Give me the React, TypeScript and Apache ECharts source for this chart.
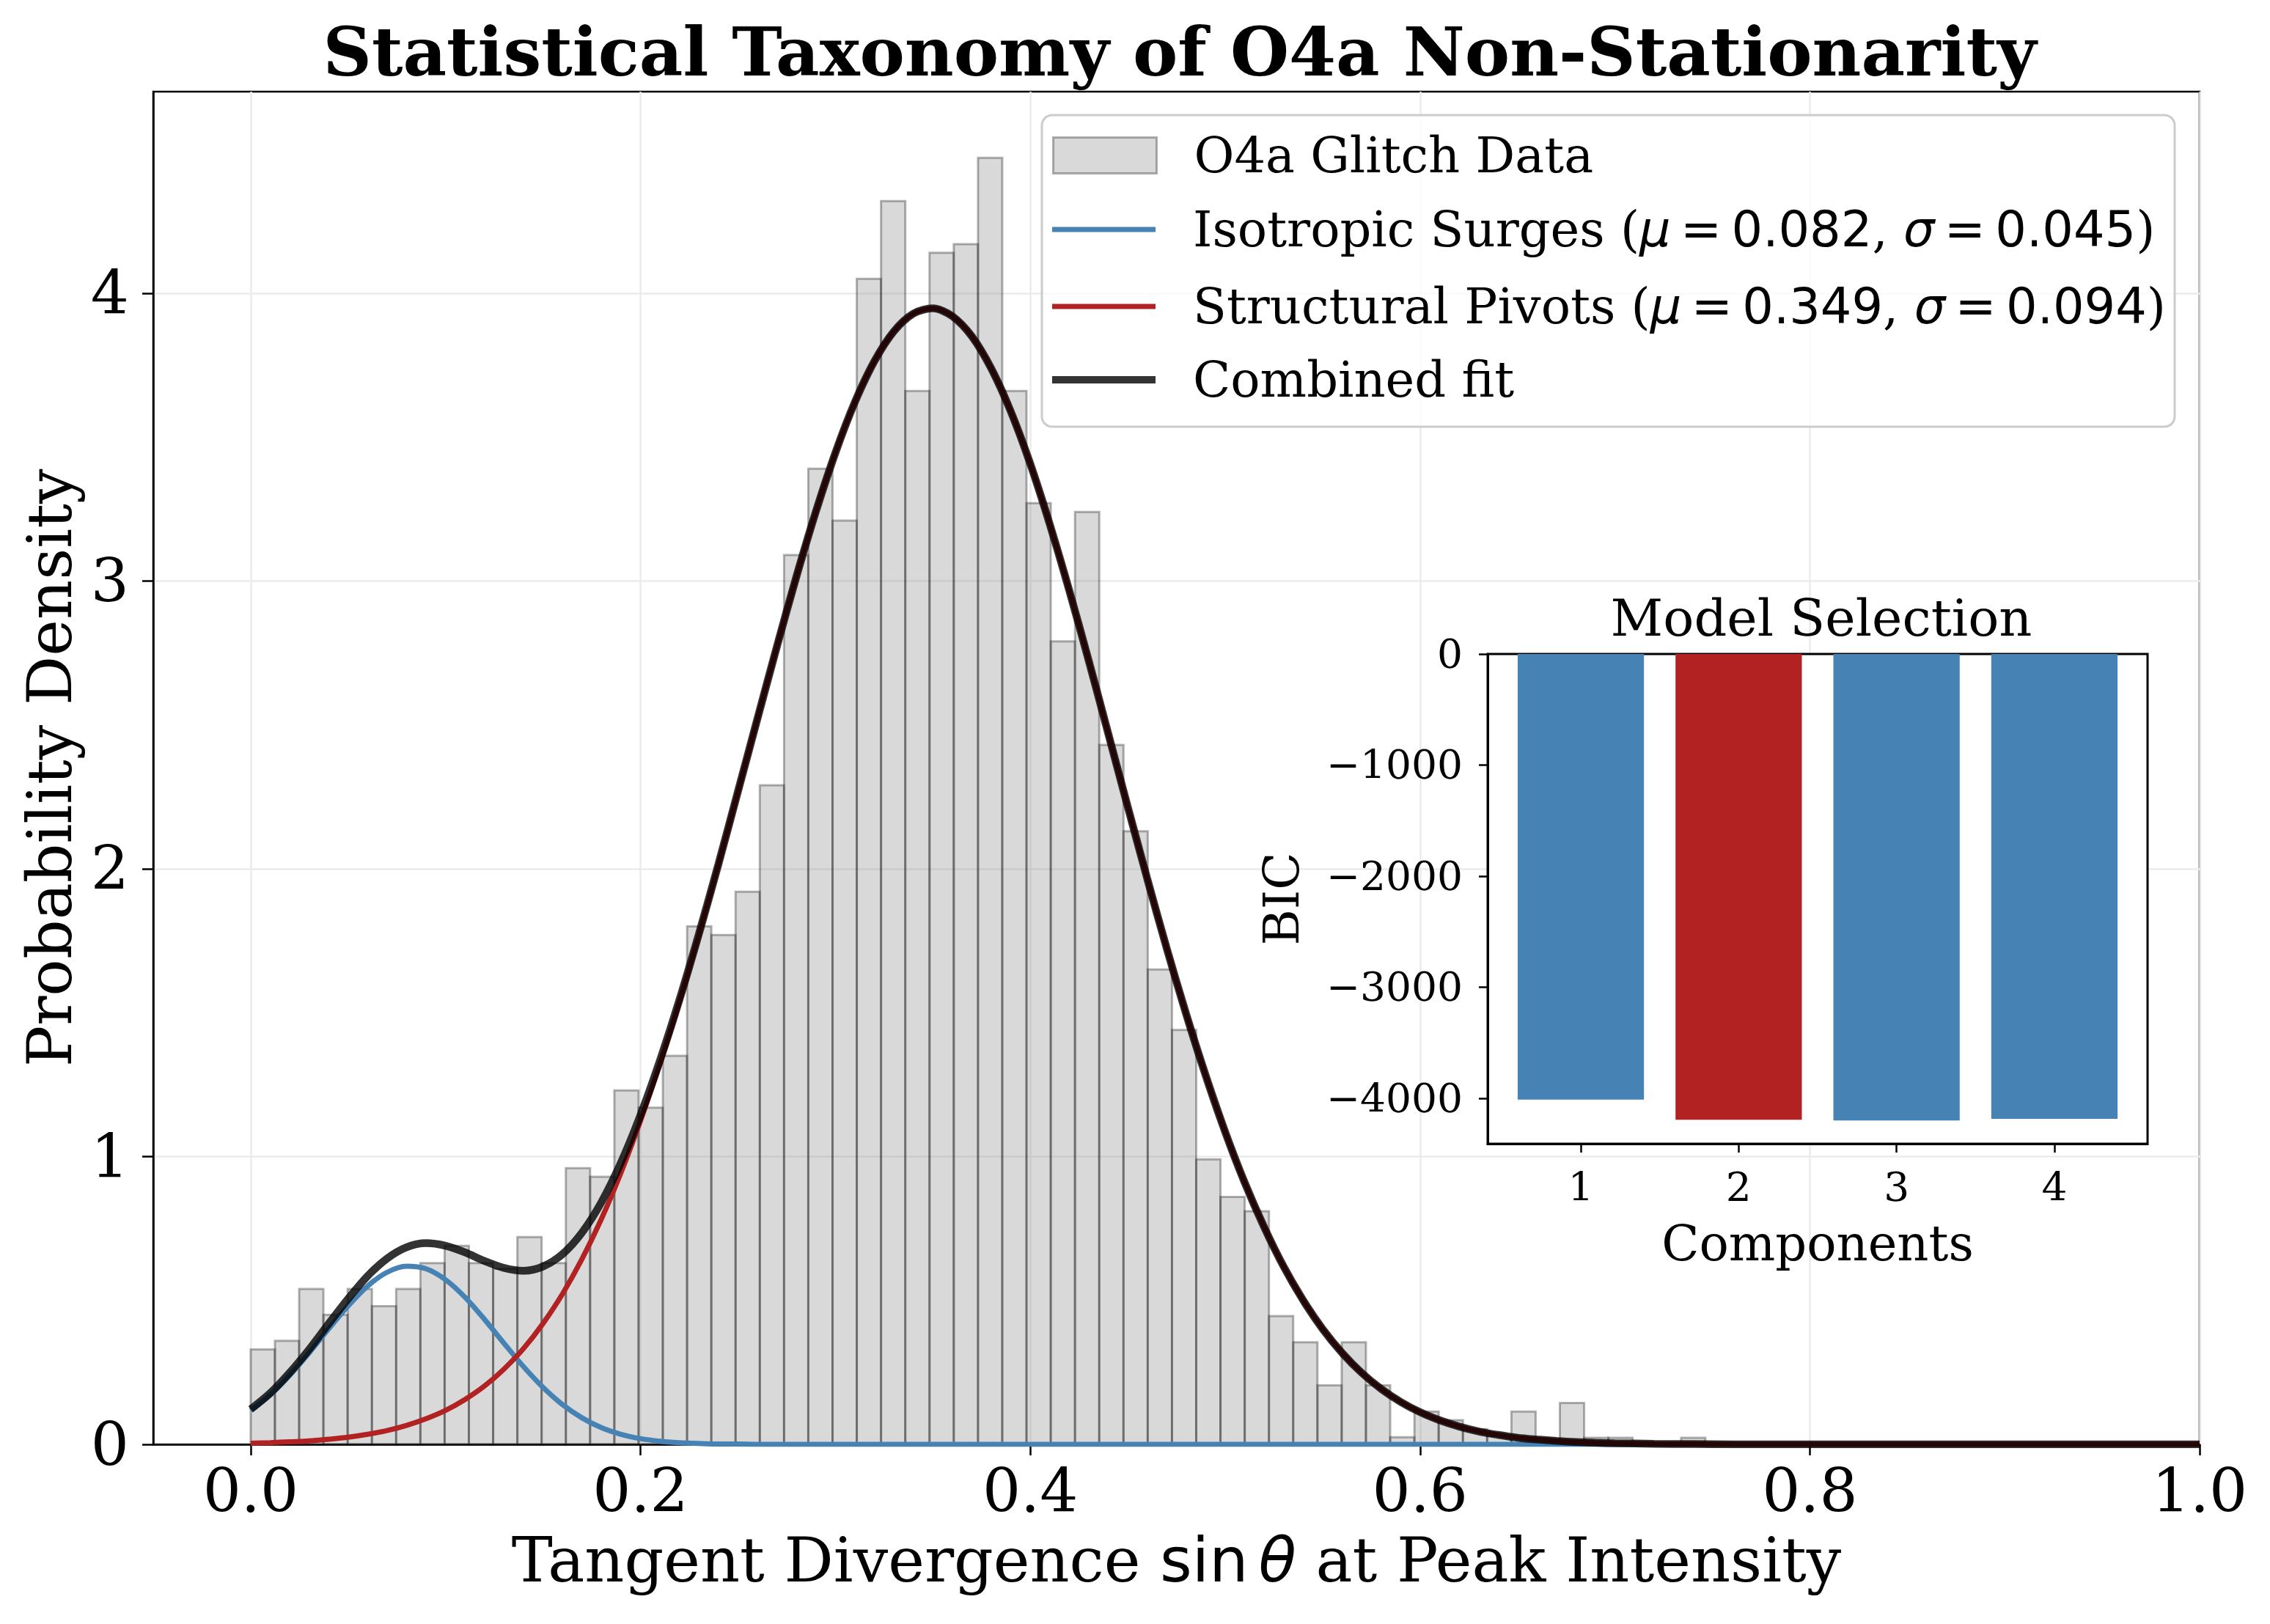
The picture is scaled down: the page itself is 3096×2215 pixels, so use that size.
import React, { useEffect, useRef } from 'react';
import * as echarts from 'echarts';

const SERIF = 'DejaVu Serif';
const SANS = 'DejaVu Sans';

// histogram: 60 equal bins starting at 0, density
const BIN_WIDTH = 0.01244;
const HIST_DENSITY = [
  0.33, 0.36, 0.54, 0.45, 0.54, 0.48, 0.54, 0.63, 0.69, 0.63,
  0.61, 0.72, 0.63, 0.96, 0.93, 1.23, 1.17, 1.35, 1.80, 1.77,
  1.92, 2.29, 3.09, 3.39, 3.21, 4.05, 4.32, 3.66, 4.14, 4.17,
  4.47, 3.66, 3.27, 2.79, 3.24, 2.43, 2.13, 1.65, 1.44, 0.99,
  0.86, 0.81, 0.446, 0.355, 0.205, 0.355, 0.205, 0.025, 0.114, 0.084,
  0.053, 0.03, 0.114, 0, 0.144, 0.023, 0.023, 0, 0, 0.023,
];

// fitted curves, sampled from the figure
const CURVE_X = [
  0, 0.01, 0.02, 0.03, 0.04, 0.05, 0.06, 0.07, 0.08, 0.09,
  0.1, 0.11, 0.12, 0.13, 0.14, 0.15, 0.16, 0.17, 0.18, 0.19,
  0.2, 0.21, 0.22, 0.23, 0.24, 0.25, 0.26, 0.27, 0.28, 0.29,
  0.3, 0.31, 0.32, 0.33, 0.34, 0.35, 0.36, 0.37, 0.38, 0.39,
  0.4, 0.41, 0.42, 0.43, 0.44, 0.45, 0.46, 0.47, 0.48, 0.49,
  0.5, 0.51, 0.52, 0.53, 0.54, 0.55, 0.56, 0.57, 0.58, 0.59,
  0.6, 0.61, 0.62, 0.63, 0.64, 0.65, 0.66, 0.67, 0.68, 0.69,
  0.7, 0.72, 0.74, 0.76, 0.8, 0.9, 1.0,
];
const ISO_Y = [
  0.118, 0.172, 0.24, 0.318, 0.401, 0.481, 0.55, 0.598, 0.619, 0.61,
  0.572, 0.511, 0.434, 0.351, 0.27, 0.198, 0.138, 0.092, 0.058, 0.035,
  0.02, 0.011, 0.006, 0.003, 0.001, 0.001, 0, 0, 0, 0,
  0, 0, 0, 0, 0, 0, 0, 0, 0, 0,
  0, 0, 0, 0, 0, 0, 0, 0, 0, 0,
  0, 0, 0, 0, 0, 0, 0, 0, 0, 0,
  0, 0, 0, 0, 0, 0, 0, 0, 0, 0,
  0, 0, 0, 0, 0, 0, 0,
];
const STRUCT_Y = [
  0.004, 0.006, 0.009, 0.012, 0.018, 0.025, 0.035, 0.048, 0.066, 0.089,
  0.118, 0.156, 0.203, 0.262, 0.333, 0.42, 0.523, 0.644, 0.784, 0.944,
  1.124, 1.323, 1.539, 1.771, 2.015, 2.267, 2.521, 2.772, 3.015, 3.241,
  3.445, 3.621, 3.763, 3.867, 3.929, 3.947, 3.92, 3.85, 3.738, 3.589,
  3.407, 3.197, 2.967, 2.723, 2.47, 2.216, 1.966, 1.724, 1.495, 1.282,
  1.086, 0.91, 0.755, 0.618, 0.501, 0.401, 0.318, 0.249, 0.193, 0.148,
  0.112, 0.084, 0.062, 0.045, 0.033, 0.023, 0.017, 0.012, 0.008, 0.0055,
  0.004, 0.002, 0.001, 0, 0, 0, 0,
];
const COMBINED_Y = [
  0.122, 0.178, 0.249, 0.33, 0.419, 0.506, 0.585, 0.646, 0.685, 0.699,
  0.69, 0.667, 0.637, 0.613, 0.603, 0.618, 0.661, 0.736, 0.842, 0.979,
  1.144, 1.334, 1.545, 1.774, 2.016, 2.268, 2.521, 2.772, 3.015, 3.241,
  3.445, 3.621, 3.763, 3.867, 3.929, 3.947, 3.92, 3.85, 3.738, 3.589,
  3.407, 3.197, 2.967, 2.723, 2.47, 2.216, 1.966, 1.724, 1.495, 1.282,
  1.086, 0.91, 0.755, 0.618, 0.501, 0.401, 0.318, 0.249, 0.193, 0.148,
  0.112, 0.084, 0.062, 0.045, 0.033, 0.023, 0.017, 0.012, 0.008, 0.0055,
  0.004, 0.002, 0.001, 0, 0, 0, 0,
];

const X_TICKS = [0, 0.2, 0.4, 0.6, 0.8, 1.0];
const Y_TICKS = [0, 1, 2, 3, 4];

// inset: model selection
const COMPONENTS = [1, 2, 3, 4];
const BIC = [-4012, -4193, -4201, -4185];
const BIC_TICKS = [-4000, -3000, -2000, -1000, 0];
const BEST = 2;

const HIST_NAME = 'O4a Glitch Data';
const ISO_NAME = 'Isotropic Surges (μ = 0.082, σ = 0.045)';
const STRUCT_NAME = 'Structural Pivots (μ = 0.349, σ = 0.094)';
const FIT_NAME = 'Combined fit';

const BLUE = '#4682B4';
const RED = '#B22222';

const legendRich = {
  a: { fontFamily: SERIF, fontSize: 67, color: '#000' },
  i: { fontFamily: SANS, fontSize: 67, fontStyle: 'italic', color: '#000' },
  m: { fontFamily: SANS, fontSize: 67, color: '#000' },
};

const TS = '\u2009';
const legendText = (name: string) => {
  if (name === ISO_NAME) return `{a|Isotropic Surges (}{i|μ}{m|${TS}=${TS}0.082}{a|, }{i|σ}{m|${TS}=${TS}0.045}{a|)}`;
  if (name === STRUCT_NAME) return `{a|Structural Pivots (}{i|μ}{m|${TS}=${TS}0.349}{a|, }{i|σ}{m|${TS}=${TS}0.094}{a|)}`;
  return '{a|' + name + '}';
};

const makeLegend = (name: string, top: number, h: number, itemStyle: any) => ({
  data: [{ name, icon: 'rect', itemStyle }],
  left: 1435,
  top,
  padding: 0,
  itemWidth: 141,
  itemHeight: h,
  selectedMode: false,
  z: 10,
  formatter: legendText,
  textStyle: {
    fontFamily: SERIF,
    fontSize: 67,
    color: '#000',
    lineHeight: 80,
    padding: [0, 0, 0, 46],
    rich: legendRich,
  },
});

const minus = (v: number) => (v < 0 ? '\u2212' + Math.abs(v) : String(v));

const App: React.FC = () => {
  const chartRef = useRef<HTMLDivElement>(null);

  useEffect(() => {
    if (!chartRef.current) return;
    const chart = echarts.init(chartRef.current, undefined, { renderer: 'svg' });

    const histData = HIST_DENSITY.map((d, i) => [i * BIN_WIDTH, (i + 1) * BIN_WIDTH, d]).filter((r) => r[2] > 0);
    const bicData = COMPONENTS.map((c, i) => [c, BIC[i]]);

    const option: any = {
      animation: false,
      backgroundColor: '#fff',
      title: [
        {
          text: 'Statistical Taxonomy of O4a Non-Stationarity',
          left: 1604,
          top: 20,
          textAlign: 'center',
          textStyle: { fontFamily: SERIF, fontSize: 92, fontWeight: 'bold', color: '#000' },
        },
        {
          text: 'Model Selection',
          left: 2479,
          top: 803,
          textAlign: 'center',
          textStyle: { fontFamily: SERIF, fontSize: 70, fontWeight: 'normal', color: '#000' },
        },
      ],
      legend: [
        makeLegend(HIST_NAME, 172, 49, { color: 'rgba(128,128,128,0.3)', borderColor: 'rgba(0,0,0,0.3)', borderWidth: 3 }),
        makeLegend(ISO_NAME, 273, 7, { color: BLUE, borderWidth: 0 }),
        makeLegend(STRUCT_NAME, 378, 7, { color: RED, borderWidth: 0 }),
        makeLegend(FIT_NAME, 478, 10, { color: 'rgba(0,0,0,0.8)', borderWidth: 0 }),
      ],
      graphic: {
        elements: [
          {
            type: 'rect',
            z: 5,
            shape: { x: 1421, y: 157, width: 1545, height: 425, r: 14 },
            style: { fill: 'rgba(255,255,255,0.8)', stroke: '#cccccc', lineWidth: 3 },
          },
          {
            type: 'rect',
            z: 1,
            shape: { x: 2029, y: 892, width: 900, height: 668 },
            style: { fill: '#fff' },
          },
        ],
      },
      grid: [
        {
          left: 209, top: 125, width: 2791, height: 1845,
          show: true, borderColor: '#000', borderWidth: 2.5, backgroundColor: 'transparent',
          containLabel: false, outerBoundsMode: 'none',
        },
        {
          left: 2029, top: 892, width: 900, height: 668,
          show: true, borderColor: '#000', borderWidth: 3, backgroundColor: 'transparent', z: 3,
          containLabel: false, outerBoundsMode: 'none',
        },
      ],
      xAxis: [
        {
          type: 'value',
          gridIndex: 0,
          min: -0.05,
          max: 1.0,
          name: '{a|Tangent Divergence }{m|sin}{t|θ}{a| at Peak Intensity}',
          nameLocation: 'middle',
          nameGap: 116,
          nameTextStyle: {
            fontFamily: SERIF,
            fontSize: 84,
            color: '#000',
            rich: {
              a: { fontFamily: SERIF, fontSize: 84, color: '#000' },
              m: { fontFamily: SANS, fontSize: 84, color: '#000' },
              t: { fontFamily: SANS, fontSize: 84, fontStyle: 'italic', color: '#000', padding: [0, 0, 0, 14] },
            },
          },
          axisLine: { show: true, onZero: false, lineStyle: { color: '#000', width: 2.5 } },
          axisTick: { show: true, inside: false, length: 15, lineStyle: { color: '#000', width: 2.5 }, customValues: X_TICKS },
          axisLabel: {
            customValues: X_TICKS,
            margin: 22,
            fontFamily: SERIF,
            fontSize: 82,
            color: '#000',
            formatter: (v: number) => v.toFixed(1),
          },
          splitLine: { show: true, lineStyle: { color: '#ebebeb', width: 2.5 } },
        },
        {
          type: 'value',
          gridIndex: 1,
          min: 0.41,
          max: 4.59,
          z: 3,
          name: 'Components',
          nameLocation: 'middle',
          nameGap: 102,
          nameTextStyle: { fontFamily: SERIF, fontSize: 67, color: '#000' },
          axisLine: { show: true, onZero: false, lineStyle: { color: '#000', width: 3 } },
          axisTick: { show: true, inside: false, length: 12, lineStyle: { color: '#000', width: 2.5 }, customValues: COMPONENTS },
          axisLabel: {
            customValues: COMPONENTS,
            margin: 31,
            fontFamily: SERIF,
            fontSize: 55,
            color: '#000',
            formatter: (v: number) => String(Math.round(v)),
          },
          splitLine: { show: false },
        },
      ],
      yAxis: [
        {
          type: 'value',
          gridIndex: 0,
          min: 0,
          max: 4.7,
          name: 'Probability Density',
          nameLocation: 'middle',
          nameGap: 99,
          nameTextStyle: { fontFamily: SERIF, fontSize: 84, color: '#000' },
          axisLine: { show: true, onZero: false, lineStyle: { color: '#000', width: 2.5 } },
          axisTick: { show: true, inside: false, length: 15, lineStyle: { color: '#000', width: 2.5 }, customValues: Y_TICKS },
          axisLabel: {
            customValues: Y_TICKS,
            margin: 33,
            fontFamily: SERIF,
            fontSize: 82,
            color: '#000',
            formatter: (v: number) => String(Math.round(v)),
          },
          splitLine: { show: true, lineStyle: { color: '#ebebeb', width: 2.5 } },
        },
        {
          type: 'value',
          gridIndex: 1,
          min: -4410,
          max: 0,
          z: 3,
          name: 'BIC',
          nameLocation: 'middle',
          nameGap: 248,
          nameTextStyle: { fontFamily: SERIF, fontSize: 67, color: '#000' },
          axisLine: { show: true, onZero: false, lineStyle: { color: '#000', width: 3 } },
          axisTick: { show: true, inside: false, length: 12, lineStyle: { color: '#000', width: 2.5 }, customValues: BIC_TICKS },
          axisLabel: {
            customValues: BIC_TICKS,
            margin: 34,
            fontFamily: SERIF,
            fontSize: 55,
            color: '#000',
            formatter: minus,
          },
          splitLine: { show: false },
        },
      ],
      series: [
        {
          name: HIST_NAME,
          type: 'custom',
          xAxisIndex: 0,
          yAxisIndex: 0,
          z: 2,
          itemStyle: { color: 'rgba(128,128,128,0.3)' },
          encode: { x: [0, 1], y: 2 },
          data: histData,
          renderItem: (_params: any, api: any) => {
            const p0 = api.coord([api.value(0), api.value(2)]);
            const p1 = api.coord([api.value(1), 0]);
            return {
              type: 'rect',
              shape: { x: p0[0], y: p0[1], width: p1[0] - p0[0], height: p1[1] - p0[1] },
              style: { fill: 'rgba(128,128,128,0.3)', stroke: 'rgba(0,0,0,0.3)', lineWidth: 3 },
            };
          },
        },
        {
          name: ISO_NAME,
          type: 'line',
          xAxisIndex: 0,
          yAxisIndex: 0,
          z: 3,
          symbol: 'none',
          smooth: 0.3,
          clip: true,
          color: BLUE,
          lineStyle: { color: BLUE, width: 7 },
          data: CURVE_X.map((x, i) => [x, ISO_Y[i]]),
        },
        {
          name: STRUCT_NAME,
          type: 'line',
          xAxisIndex: 0,
          yAxisIndex: 0,
          z: 3,
          symbol: 'none',
          smooth: 0.3,
          clip: true,
          color: RED,
          lineStyle: { color: RED, width: 7 },
          data: CURVE_X.map((x, i) => [x, STRUCT_Y[i]]),
        },
        {
          name: FIT_NAME,
          type: 'line',
          xAxisIndex: 0,
          yAxisIndex: 0,
          z: 4,
          symbol: 'none',
          smooth: 0.3,
          clip: true,
          color: 'rgba(0,0,0,0.8)',
          lineStyle: { color: 'rgba(0,0,0,0.8)', width: 10.5 },
          data: CURVE_X.map((x, i) => [x, COMBINED_Y[i]]),
        },
        {
          name: 'BIC',
          type: 'custom',
          xAxisIndex: 1,
          yAxisIndex: 1,
          z: 4,
          encode: { x: 0, y: 1 },
          data: bicData,
          renderItem: (_params: any, api: any) => {
            const c = api.value(0);
            const p0 = api.coord([c - 0.4, 0]);
            const p1 = api.coord([c + 0.4, api.value(1)]);
            return {
              type: 'rect',
              shape: { x: p0[0], y: p0[1], width: p1[0] - p0[0], height: p1[1] - p0[1] },
              style: { fill: c === BEST ? RED : BLUE },
            };
          },
        },
      ],
    };

    chart.setOption(option);
    return () => {
      chart.dispose();
    };
  }, []);

  return (
    <div
      ref={chartRef}
      style={{ position: 'absolute', left: 0, top: 0, width: 3096, height: 2215, background: '#fff' }}
    />
  );
};

export default App;
